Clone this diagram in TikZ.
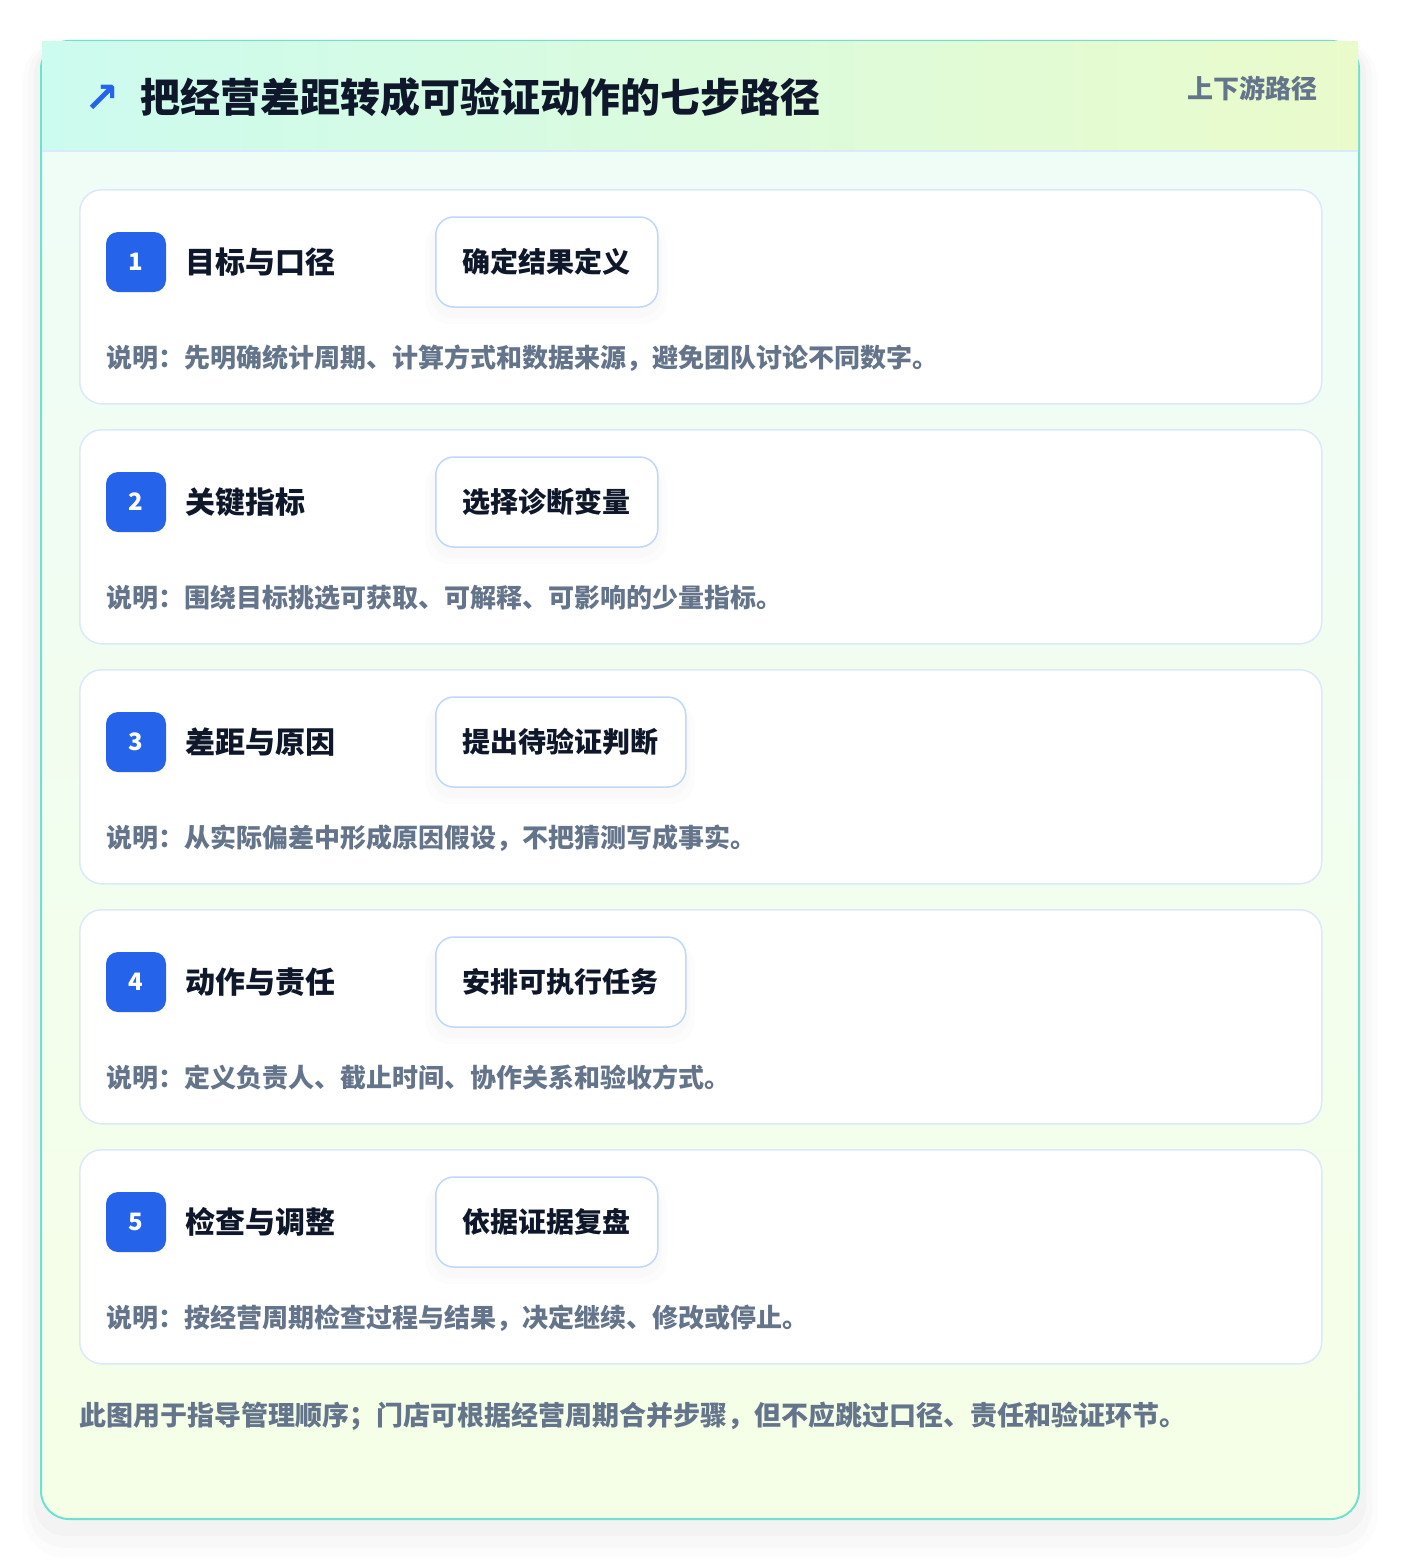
\documentclass[tikz,border=0pt]{standalone}
\usepackage{fontspec}
\setmainfont{Noto Sans CJK SC}
\newfontfamily\symfont{DejaVu Sans}
\usetikzlibrary{positioning}
\definecolor{frameline}{HTML}{6EE2CF}
\definecolor{headmint}{HTML}{CCFBEF}
\definecolor{headlime}{HTML}{EAFBCB}
\definecolor{bodymint}{HTML}{EFFDF8}
\definecolor{bodylime}{HTML}{F5FEE6}
\definecolor{cardline}{HTML}{DCE8FB}
\definecolor{pillline}{HTML}{BFD8F8}
\definecolor{badgeblue}{HTML}{2563EB}
\definecolor{ink}{HTML}{0F172A}
\definecolor{slate}{HTML}{64748B}
\tikzset{
    card/.style={draw=cardline, line width=1.5pt, fill=white, rounded corners=22pt,
        minimum width=1242pt, minimum height=214pt, anchor=north west, inner sep=0pt},
    badge/.style={fill=badgeblue, rounded corners=12pt, minimum size=60pt, inner sep=0pt,
        text=white, font=\fontsize{24}{28}\selectfont\bfseries, text height=17pt, text depth=0pt},
    steptitle/.style={text=ink, font=\fontsize{30}{36}\selectfont\bfseries, inner sep=0pt,
        text height=26pt, text depth=3.2pt},
    pill/.style={draw=pillline, line width=1.5pt, fill=white, rounded corners=18pt,
        minimum height=90pt, inner xsep=27pt, inner ysep=0pt, anchor=west, text=ink,
        font=\fontsize{28}{34}\selectfont\bfseries, text height=24pt, text depth=3pt},
    pillshadow/.style={fill=black, opacity=0.012, rounded corners=24pt},
    note/.style={anchor=base west, text=slate, font=\fontsize{26}{32}\selectfont\bfseries, inner sep=0pt},
}
\begin{document}
\begin{tikzpicture}[x=1pt, y=-1pt]
\useasboundingbox[fill=white] (0,0) rectangle (1400,1560);
% soft shadow of the frame
\fill[black, opacity=0.012, rounded corners=44pt] (22,38) rectangle (1378,1558);
\fill[black, opacity=0.015, rounded corners=38pt] (28,40) rectangle (1372,1548);
\fill[black, opacity=0.02, rounded corners=32pt] (34,43) rectangle (1366,1536);
% frame
\shade[top color=bodymint, bottom color=bodylime, rounded corners=28pt] (41,41) rectangle (1359,1519);
\draw[frameline, line width=2pt, rounded corners=28pt] (41,41) rectangle (1359,1519);
\shade[left color=headmint, right color=headlime] (42,42) rectangle (1358,151);
\draw[cardline, line width=1.5pt] (42,151) -- (1358,151);
\node[text=badgeblue, font=\fontsize{42}{48}\selectfont\symfont\bfseries, inner sep=0pt] (icon) at (102,99) {↗};
\node[anchor=base west, text=ink, font=\fontsize{40}{48}\selectfont\bfseries, inner sep=0pt] (title) at (140,113) {把经营差距转成可验证动作的七步路径};
\node[anchor=base east, text=slate, font=\fontsize{26}{32}\selectfont\bfseries, inner sep=0pt] (tag) at (1318,99) {上下游路径};

% step 1
\node[card] (card1) at (79,189) {};
\node[badge] (num1) at (136,262) {1};
\node[steptitle, right=19pt of num1] (head1) {目标与口径};
\fill[pillshadow] (425,222) rectangle (667,324);
\fill[pillshadow] (430,222) rectangle (662,318);
\node[pill] (act1) at (435,262) {确定结果定义};
\node[note] (note1) at (106,367) {说明：先明确统计周期、计算方式和数据来源，避免团队讨论不同数字。};

% step 2
\node[card] (card2) at (79,429) {};
\node[badge] (num2) at (136,502) {2};
\node[steptitle, right=19pt of num2] (head2) {关键指标};
\fill[pillshadow] (425,462) rectangle (667,564);
\fill[pillshadow] (430,462) rectangle (662,558);
\node[pill] (act2) at (435,502) {选择诊断变量};
\node[note] (note2) at (106,607) {说明：围绕目标挑选可获取、可解释、可影响的少量指标。};

% step 3
\node[card] (card3) at (79,669) {};
\node[badge] (num3) at (136,742) {3};
\node[steptitle, right=19pt of num3] (head3) {差距与原因};
\fill[pillshadow] (425,702) rectangle (695,804);
\fill[pillshadow] (430,702) rectangle (690,798);
\node[pill] (act3) at (435,742) {提出待验证判断};
\node[note] (note3) at (106,847) {说明：从实际偏差中形成原因假设，不把猜测写成事实。};

% step 4
\node[card] (card4) at (79,909) {};
\node[badge] (num4) at (136,982) {4};
\node[steptitle, right=19pt of num4] (head4) {动作与责任};
\fill[pillshadow] (425,942) rectangle (695,1044);
\fill[pillshadow] (430,942) rectangle (690,1038);
\node[pill] (act4) at (435,982) {安排可执行任务};
\node[note] (note4) at (106,1087) {说明：定义负责人、截止时间、协作关系和验收方式。};

% step 5
\node[card] (card5) at (79,1149) {};
\node[badge] (num5) at (136,1222) {5};
\node[steptitle, right=19pt of num5] (head5) {检查与调整};
\fill[pillshadow] (425,1182) rectangle (667,1284);
\fill[pillshadow] (430,1182) rectangle (662,1278);
\node[pill] (act5) at (435,1222) {依据证据复盘};
\node[note] (note5) at (106,1327) {说明：按经营周期检查过程与结果，决定继续、修改或停止。};

\node[note, font=\fontsize{27}{32}\selectfont\bfseries] (foot) at (79,1425) {此图用于指导管理顺序；门店可根据经营周期合并步骤，但不应跳过口径、责任和验证环节。};
\end{tikzpicture}
\end{document}
